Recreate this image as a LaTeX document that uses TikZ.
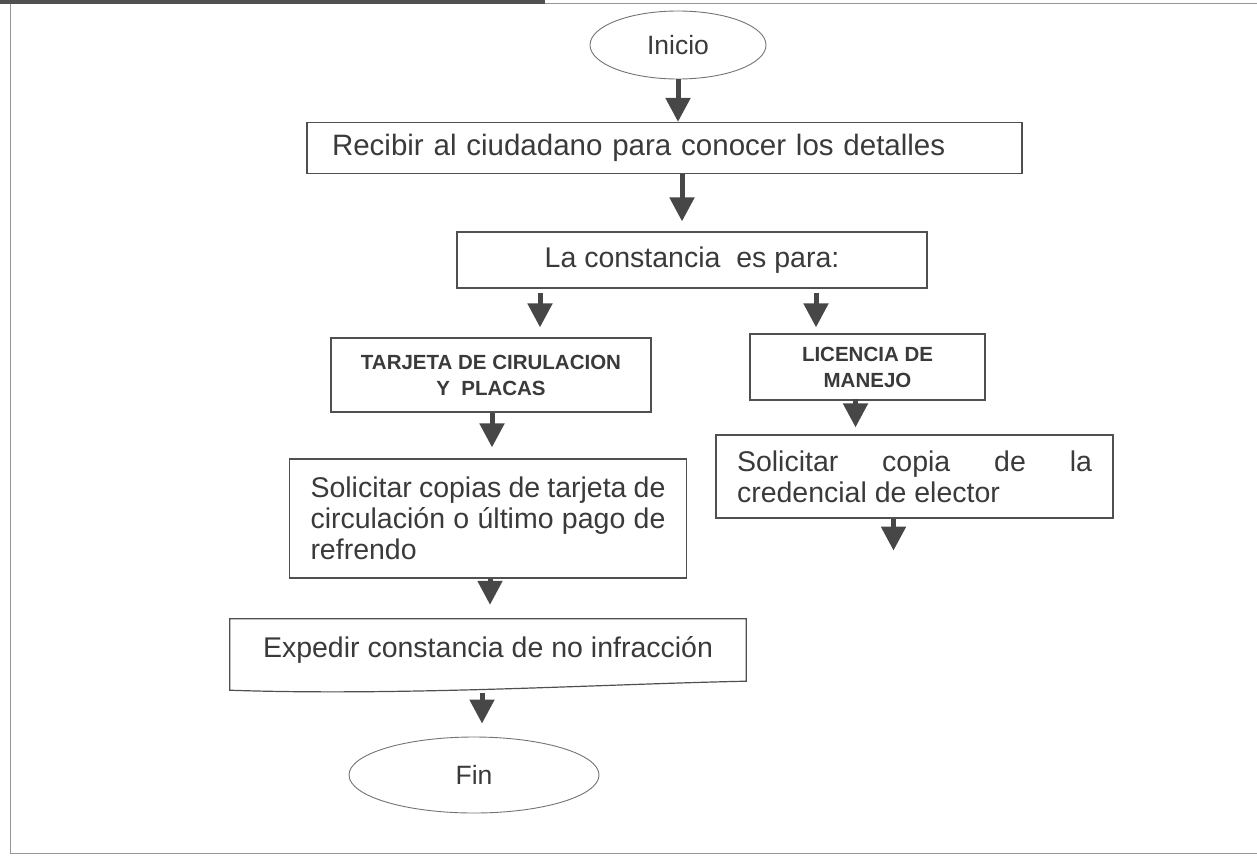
\documentclass[tikz,border=0pt]{standalone}
\usepackage{fontspec}
\setmainfont{Liberation Sans}
\usetikzlibrary{arrows.meta, positioning, shapes.geometric, calc}
\definecolor{ink}{HTML}{3A3A3A}
\definecolor{edge}{HTML}{505050}
\definecolor{arr}{HTML}{474747}
\tikzset{
  blk/.style ={rectangle, draw=edge, line width=1.2pt, text=ink, inner sep=0pt, font=\fontsize{28.5}{31}\selectfont},
  hdr/.style ={rectangle, draw=edge, line width=1.2pt, text=ink, align=center, inner sep=0pt, font=\bfseries\fontsize{20.5}{26}\selectfont},
  term/.style={ellipse, draw=edge!80, line width=0.9pt, text=ink, inner sep=0pt, font=\fontsize{26.5}{30}\selectfont},
  doc/.style ={rectangle, inner sep=0pt, text=ink, font=\fontsize{28.5}{31}\selectfont},
  fl/.style  ={-{Triangle[width=24pt,length=24pt]}, draw=arr, line width=5pt},
}
\begin{document}
\begin{tikzpicture}[x=1pt, y=-1pt]
  \useasboundingbox (0,0) rectangle (1257,862);
  % frame
  \draw[edge!60, line width=1pt] (1257,3) -- (10,3) -- (10,853) -- (1257,853);
  \draw[edge, line width=4pt] (0,1.5) -- (545,1.5);
  \node[term, minimum width=176pt, minimum height=68pt] (ini) at (678,45) {Inicio};
  \node[blk, minimum width=715pt, minimum height=51pt, text width=665pt, align=left, font=\fontsize{29.5}{31}\selectfont] (rec) at (664.5,148) {Recibir al ciudadano para conocer los detalles};
  \node[blk, minimum width=470pt, minimum height=56pt] (cons) at (692,260) {La constancia\ \ es para:};
  \node[hdr, minimum width=320pt, minimum height=74pt] (tarj) at (491,375) {TARJETA DE CIRULACION\\Y\ \ PLACAS};
  \node[hdr, minimum width=235pt, minimum height=66pt] (lic) at (867.5,367) {LICENCIA DE\\MANEJO};
  \node[blk, minimum width=397pt, minimum height=119pt, text width=355pt, align=justify] (sol1) at (488,518.5) {Solicitar copias de tarjeta de circulación o último pago de refrendo};
  \node[blk, minimum width=397pt, minimum height=83pt, text width=355pt, align=justify] (sol2) at (914.5,476.5) {Solicitar copia de la\linebreak credencial de elector};
  \node[doc, minimum width=516pt, minimum height=62pt] (exp) at (488,650) {Expedir constancia de no infracción};
  \draw[edge, line width=1.2pt] (exp.south west) -- (exp.north west) -- (exp.north east) -- (exp.south east)
    .. controls ($(exp.south east)+(-146,3)$) and ($(exp.south west)+(170,15)$) .. ($(exp.south west)+(0,9)$) -- cycle;
  \node[term, minimum width=250pt, minimum height=76pt] (fin) at (474,775) {Fin};
  % arrow start points
  \coordinate (a2) at ([xshift=-10pt]cons.north |- rec.south);
  \coordinate (a3) at ([xshift=-152pt]cons.south);
  \coordinate (a4) at ([xshift=124pt]cons.south);
  \coordinate (a5) at ([xshift=1pt]tarj.south);
  \coordinate (a6) at ([xshift=-12pt]lic.south);
  \coordinate (a7) at ([xshift=-21pt]sol2.south);
  \coordinate (e7) at ([yshift=-32pt]a7);
  \coordinate (a8) at ([xshift=2pt]sol1.south);
  \coordinate (a9) at ([xshift=-6pt]exp.south);
  \draw[fl] (ini.south) -- (ini.south |- rec.north);
  \draw[fl, shorten >=10pt] (a2) -- (a2 |- cons.north);
  \draw[fl, shorten <=4pt, shorten >=10pt] (a3) -- (a3 |- tarj.north);
  \draw[fl, shorten <=4pt, shorten >=6pt] (a4) -- (a4 |- lic.north);
  \draw[fl, shorten >=11pt] (a5) -- (a5 |- sol1.north);
  \draw[fl, shorten <=-2pt, shorten >=7pt] (a6) -- (a6 |- sol2.north);
  \draw[fl] (a7) -- (e7);
  \draw[fl, shorten >=14pt] (a8) -- (a8 |- exp.north);
  \draw[fl, shorten <=12pt, shorten >=13pt] (a9) -- (a9 |- fin.north);
\end{tikzpicture}
\end{document}
